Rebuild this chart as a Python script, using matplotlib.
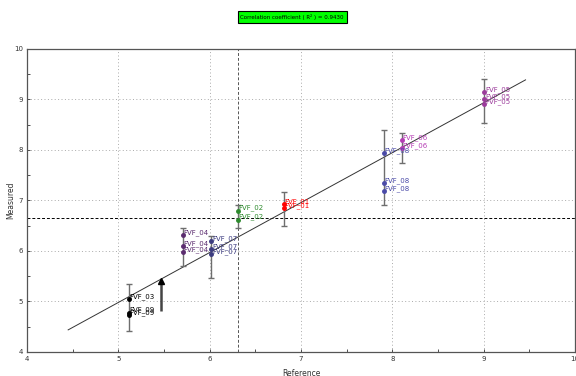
import matplotlib
matplotlib.use("Agg")
import matplotlib.pyplot as plt

FONT = ['Liberation Sans Narrow', 'DejaVu Sans']
plt.rcParams['font.family'] = FONT

# ---- data ----
point_labels = ['FVF_03', 'FVF_09', 'FVF_09',
                'FVF_04', 'FVF_04', 'FVF_04',
                'FVF_07', 'FVF_07', 'FVF_07',
                'FVF_02', 'FVF_02',
                'FVF_01', 'FVF_01',
                'FVF_08', 'FVF_08', 'FVF_08',
                'FVF_06', 'FVF_06',
                'FVF_05', 'FVF_05', 'FVF_05']
point_x = [5.12, 5.12, 5.12,
           5.71, 5.71, 5.71,
           6.02, 6.02, 6.02,
           6.31, 6.31,
           6.81, 6.81,
           7.91, 7.91, 7.91,
           8.11, 8.11,
           9.01, 9.01, 9.01]
point_y = [5.05, 4.78, 4.73,
           6.32, 6.10, 5.98,
           6.20, 6.03, 5.93,
           6.80, 6.62,
           6.93, 6.85,
           7.93, 7.35, 7.18,
           8.20, 8.03,
           9.15, 9.00, 8.90]
label_colors = {'FVF_03': '#000000', 'FVF_09': '#000000', 'FVF_04': '#5b2c6f',
                'FVF_07': '#3b3b80', 'FVF_02': '#2e8b2e', 'FVF_01': '#ff0000',
                'FVF_08': '#4a4aa8', 'FVF_06': '#b43cb4', 'FVF_05': '#9b3b9b'}

bar_x = [5.12, 5.71, 6.02, 6.31, 6.81, 7.91, 8.11, 9.01]
bar_lo = [4.42, 5.70, 5.47, 6.45, 6.50, 6.91, 7.74, 8.53]
bar_hi = [5.35, 6.46, 6.30, 6.90, 7.17, 8.40, 8.34, 9.41]

arrow_x = 5.47
arrow_lo = 4.81
arrow_hi = 5.41

fit_x = [4.45, 9.46]
fit_slope = 0.988
fit_intercept = 0.04

ref_x = 6.31
ref_y = 6.65
r2 = 0.9430

xticks = [4, 5, 6, 7, 8, 9, 10]
yticks = [4, 5, 6, 7, 8, 9, 10]

# ---- figure ----
fig = plt.figure(figsize=(5.76, 3.76), dpi=100)
ax = fig.add_axes([0.047, 0.064, 0.951, 0.806])
ax.set_xlim(4, 10)
ax.set_ylim(4, 10)

ax.set_xticks(xticks)
ax.set_yticks(yticks)
ax.set_xticks([4.5, 5.5, 6.5, 7.5, 8.5, 9.5], minor=True)
ax.set_yticks([4.5, 5.5, 6.5, 7.5, 8.5, 9.5], minor=True)
ax.tick_params(which='both', direction='in', labelsize=5, colors='#333333',
               width=0.6)
ax.tick_params(which='major', length=2.5, pad=3)
ax.tick_params(which='minor', length=2.5)
for s in ax.spines.values():
    s.set_color('#555555')
    s.set_linewidth(0.9)

ax.grid(True, which='major', linestyle=(0, (1, 2.5)), color='#aaaaaa', linewidth=0.7)
ax.set_axisbelow(True)

ax.set_xlabel('Reference', fontsize=5.5, color='#333333', labelpad=5)
ax.set_ylabel('Measured', fontsize=5.5, color='#333333')
ax.yaxis.set_label_coords(-0.021, 0.5)

# reference dashed lines
ax.axvline(ref_x, color='#555555', linestyle=(0, (3, 2)), linewidth=0.7)
ax.axhline(ref_y, color='#000000', linestyle=(0, (3, 2)), linewidth=0.7)

# fit line
fit_y = [fit_slope * v + fit_intercept for v in fit_x]
ax.plot(fit_x, fit_y, color='#333333', linewidth=0.7)

# error bars
ax.vlines(bar_x, bar_lo, bar_hi, color='#6e6e6e', linewidth=1.0, zorder=3)
ax.plot(bar_x, bar_lo, linestyle='none', marker='_', markersize=5,
        color='#6e6e6e', markeredgewidth=1.0, zorder=3)
ax.plot(bar_x, bar_hi, linestyle='none', marker='_', markersize=5,
        color='#6e6e6e', markeredgewidth=1.0, zorder=3)

# arrow-like bar
ax.vlines([arrow_x], [arrow_lo], [arrow_hi], color='#444444', linewidth=1.8, zorder=3)
ax.plot([arrow_x], [arrow_hi], marker='^', color='#000000', markersize=4, zorder=4)

# points and labels
for lab, x, y in zip(point_labels, point_x, point_y):
    c = label_colors[lab]
    ax.plot([x], [y], marker='o', color=c, markersize=2.5, zorder=4)
    ax.text(x + 0.005, y + 0.05, lab, fontsize=5, color=c, va='center',
            ha='left', family=FONT, zorder=5)

# title box
fig.text(0.507, 0.955, 'Correlation coefficient ( R\u00b2 ) = %.4f' % r2,
         fontsize=4, ha='center', va='center', color='#000000', family=FONT,
         bbox=dict(boxstyle='square,pad=0.5', facecolor='#00ff00',
                   edgecolor='#000000', linewidth=0.8))

fig.savefig('out.png', dpi=100)
